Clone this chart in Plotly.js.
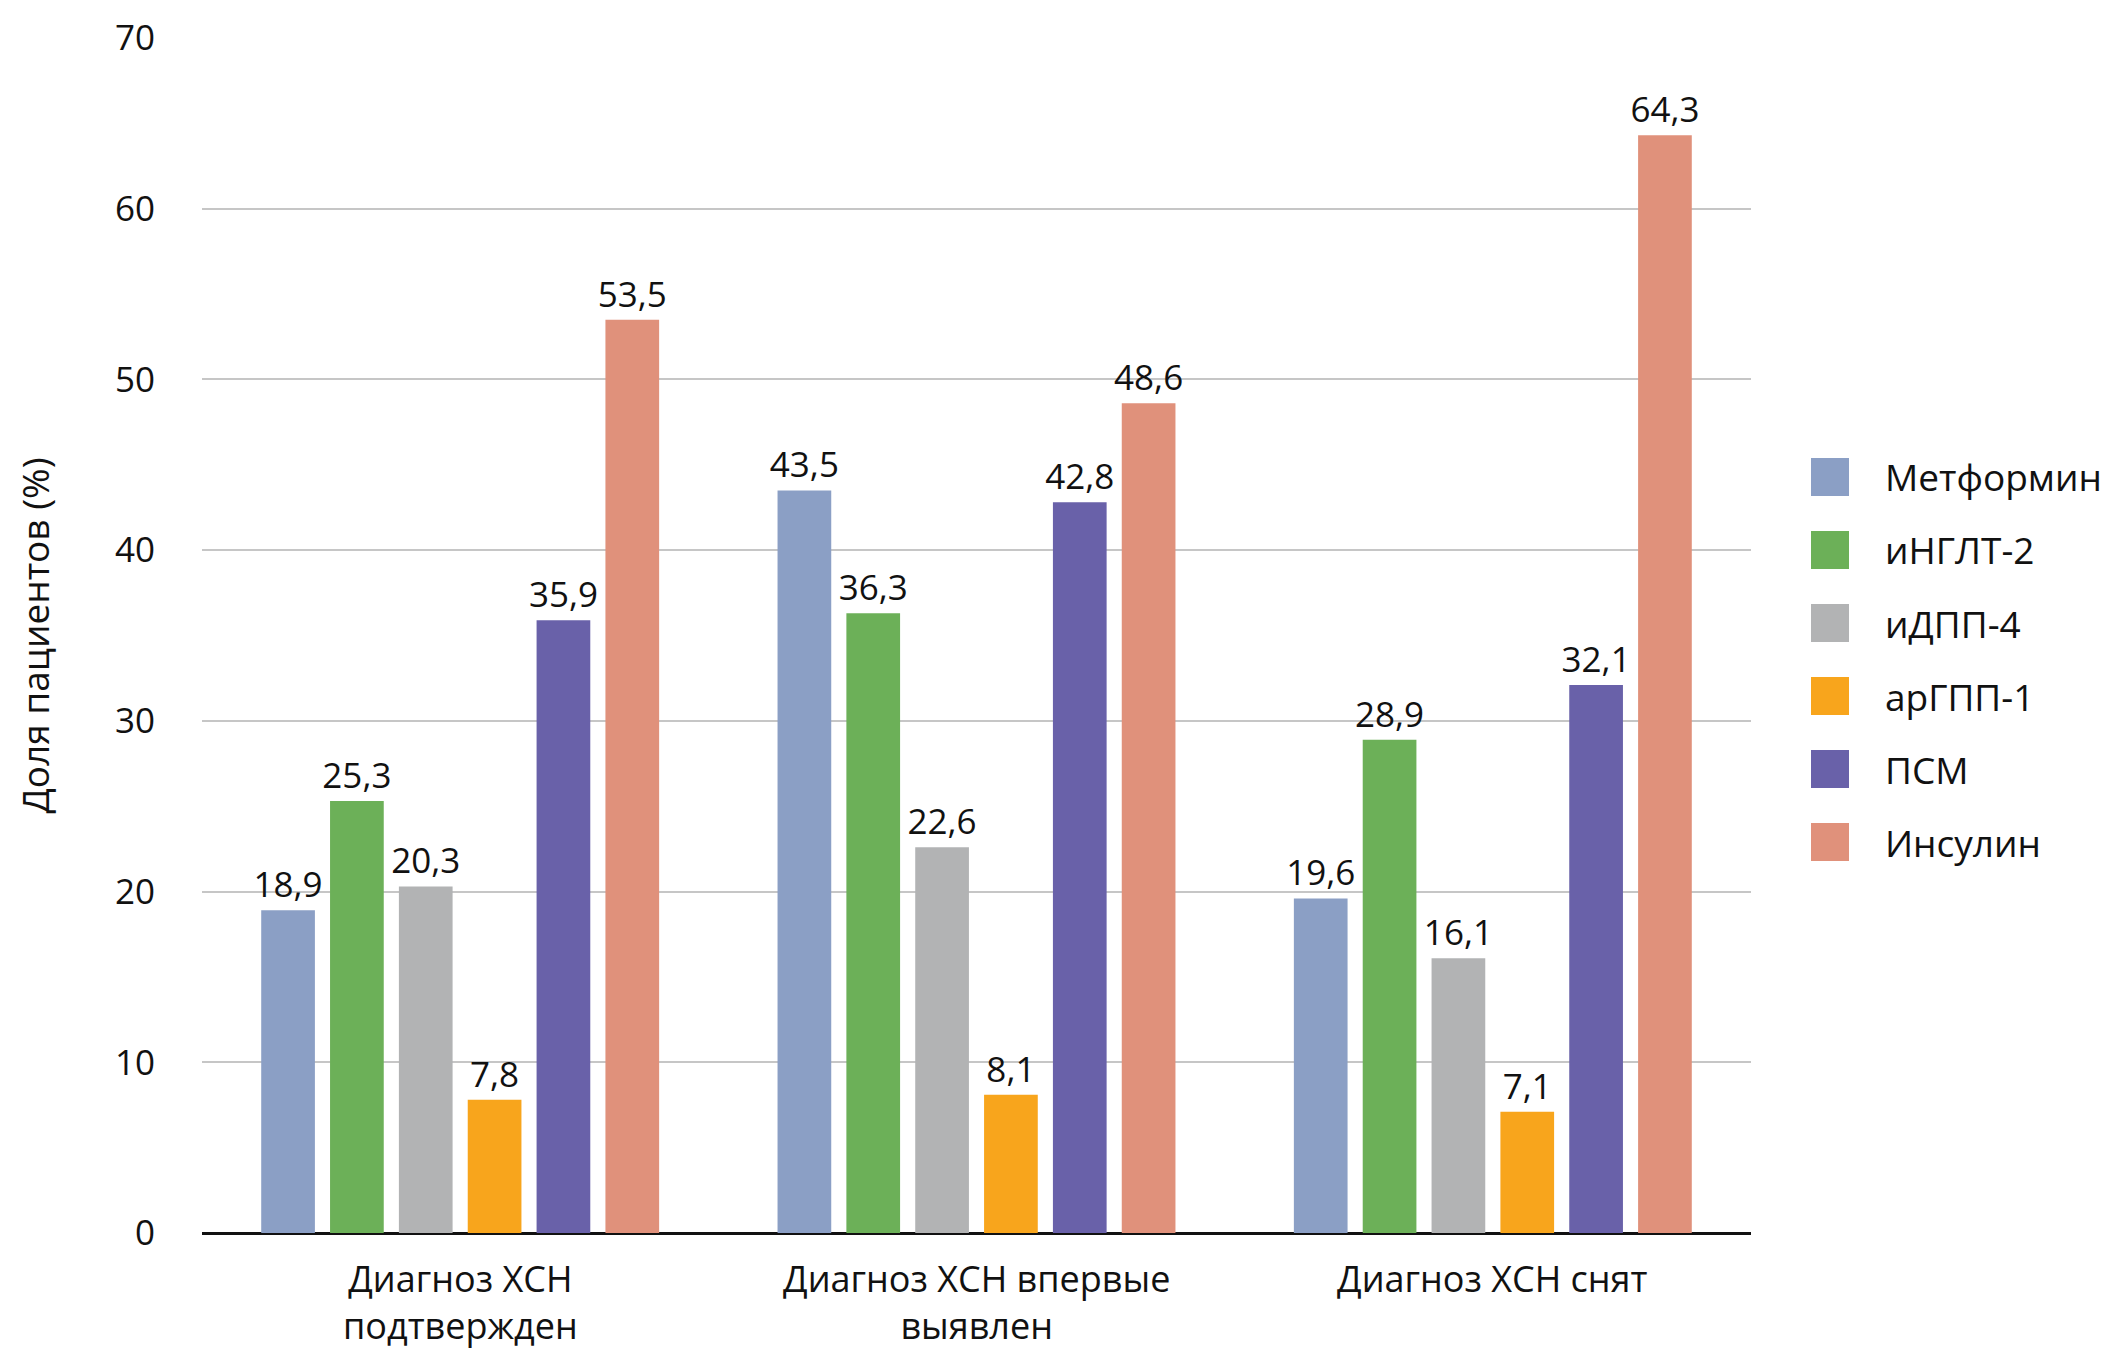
<!DOCTYPE html>
<html>
<head>
<meta charset="utf-8">
<script src="https://cdn.plot.ly/plotly-3.0.1.min.js"></script>
<style>
  body { margin: 0; background: #fff; }
  #chart { width: 2123px; height: 1351px; }
</style>
</head>
<body>
<div id="chart"></div>
<script>
// доля пациентов (%) по группам сахароснижающих препаратов
let categories = ['Диагноз ХСН подтвержден', 'Диагноз ХСН впервые выявлен', 'Диагноз ХСН снят'];
let catLabels = ['Диагноз ХСН<br>подтвержден', 'Диагноз ХСН впервые<br>выявлен', 'Диагноз ХСН снят'];
let drugNames = ['Метформин', 'иНГЛТ-2', 'иДПП-4', 'арГПП-1', 'ПСМ', 'Инсулин'];
let metformin = [18.9, 43.5, 19.6];
let ingl2 = [25.3, 36.3, 28.9];
let idpp4 = [20.3, 22.6, 16.1];
let argpp1 = [7.8, 8.1, 7.1];
let psm = [35.9, 42.8, 32.1];
let insulin = [53.5, 48.6, 64.3];
let yTicks = [0, 10, 20, 30, 40, 50, 60, 70];
let drugColors = ['#8b9fc5', '#6cb058', '#b2b3b4', '#f8a51c', '#6961a9', '#e0917b'];

let series = [metformin, ingl2, idpp4, argpp1, psm, insulin];
let font = 'Open Sans, Noto Sans, sans-serif';

let M = { l: 202, r: 372, t: 38, b: 118 };
let plotW = 2123 - M.l - M.r;
let plotH = 1351 - M.t - M.b;
function px2x(px) { return (px - M.l) / plotW; }
function py2y(py) { return 1 - (py - M.t) / plotH; }

let traces = [];
for (let i = 0; i < series.length; i++) {
  traces.push({
    type: 'bar',
    name: drugNames[i],
    x: categories,
    y: series[i],
    marker: { color: drugColors[i] },
    text: series[i],
    texttemplate: '%{y:.1f}',
    textposition: 'outside',
    constraintext: 'none',
    cliponaxis: false,
    textfont: { family: font, size: 35, color: '#111' },
    hoverinfo: 'none'
  });
}

let shapes = [];
let annotations = [];

// подписи категорий под осью
for (let i = 0; i < categories.length; i++) {
  annotations.push({
    xref: 'x', yref: 'paper', x: categories[i], y: py2y(1252),
    xanchor: 'center', yanchor: 'top', showarrow: false,
    text: catLabels[i], font: { family: font, size: 36, color: '#111' }
  });
}

// легенда справа: квадраты и подписи
let legTop = 477, legStep = 73, sq = 38;
for (let i = 0; i < drugNames.length; i++) {
  let cy = legTop + i * legStep;
  shapes.push({
    type: 'rect', xref: 'paper', yref: 'paper',
    x0: px2x(1811), x1: px2x(1811 + sq),
    y0: py2y(cy + sq / 2), y1: py2y(cy - sq / 2),
    fillcolor: drugColors[i], line: { width: 0 }
  });
  annotations.push({
    xref: 'paper', yref: 'paper',
    x: px2x(1883), y: py2y(cy),
    xanchor: 'left', yanchor: 'middle',
    text: drugNames[i], showarrow: false,
    font: { family: font, size: 37, color: '#111' }
  });
}

let layout = {
  width: 2123,
  height: 1351,
  margin: M,
  paper_bgcolor: '#fff',
  plot_bgcolor: '#fff',
  separators: ', ',
  barmode: 'group',
  bargap: 0.2,
  bargroupgap: 0.22,
  showlegend: false,
  font: { family: font, size: 35, color: '#111' },
  xaxis: {
    showgrid: false,
    showline: false,
    ticks: '',
    showticklabels: false
  },
  yaxis: {
    range: [0, 70],
    tickvals: yTicks,
    ticktext: yTicks.map(String),
    showgrid: true,
    gridcolor: '#c6c6c6',
    gridwidth: 2,
    zeroline: true,
    zerolinecolor: '#111',
    zerolinewidth: 3,
    showline: false,
    ticks: '',
    ticklabelstandoff: 46,
    tickfont: { family: font, size: 35, color: '#111' },
    title: {
      text: 'Доля пациентов (%)',
      standoff: 54,
      font: { family: font, size: 37, color: '#111' }
    }
  },
  shapes: shapes,
  annotations: annotations
};

Plotly.newPlot('chart', traces, layout, { staticPlot: true });
</script>
</body>
</html>
